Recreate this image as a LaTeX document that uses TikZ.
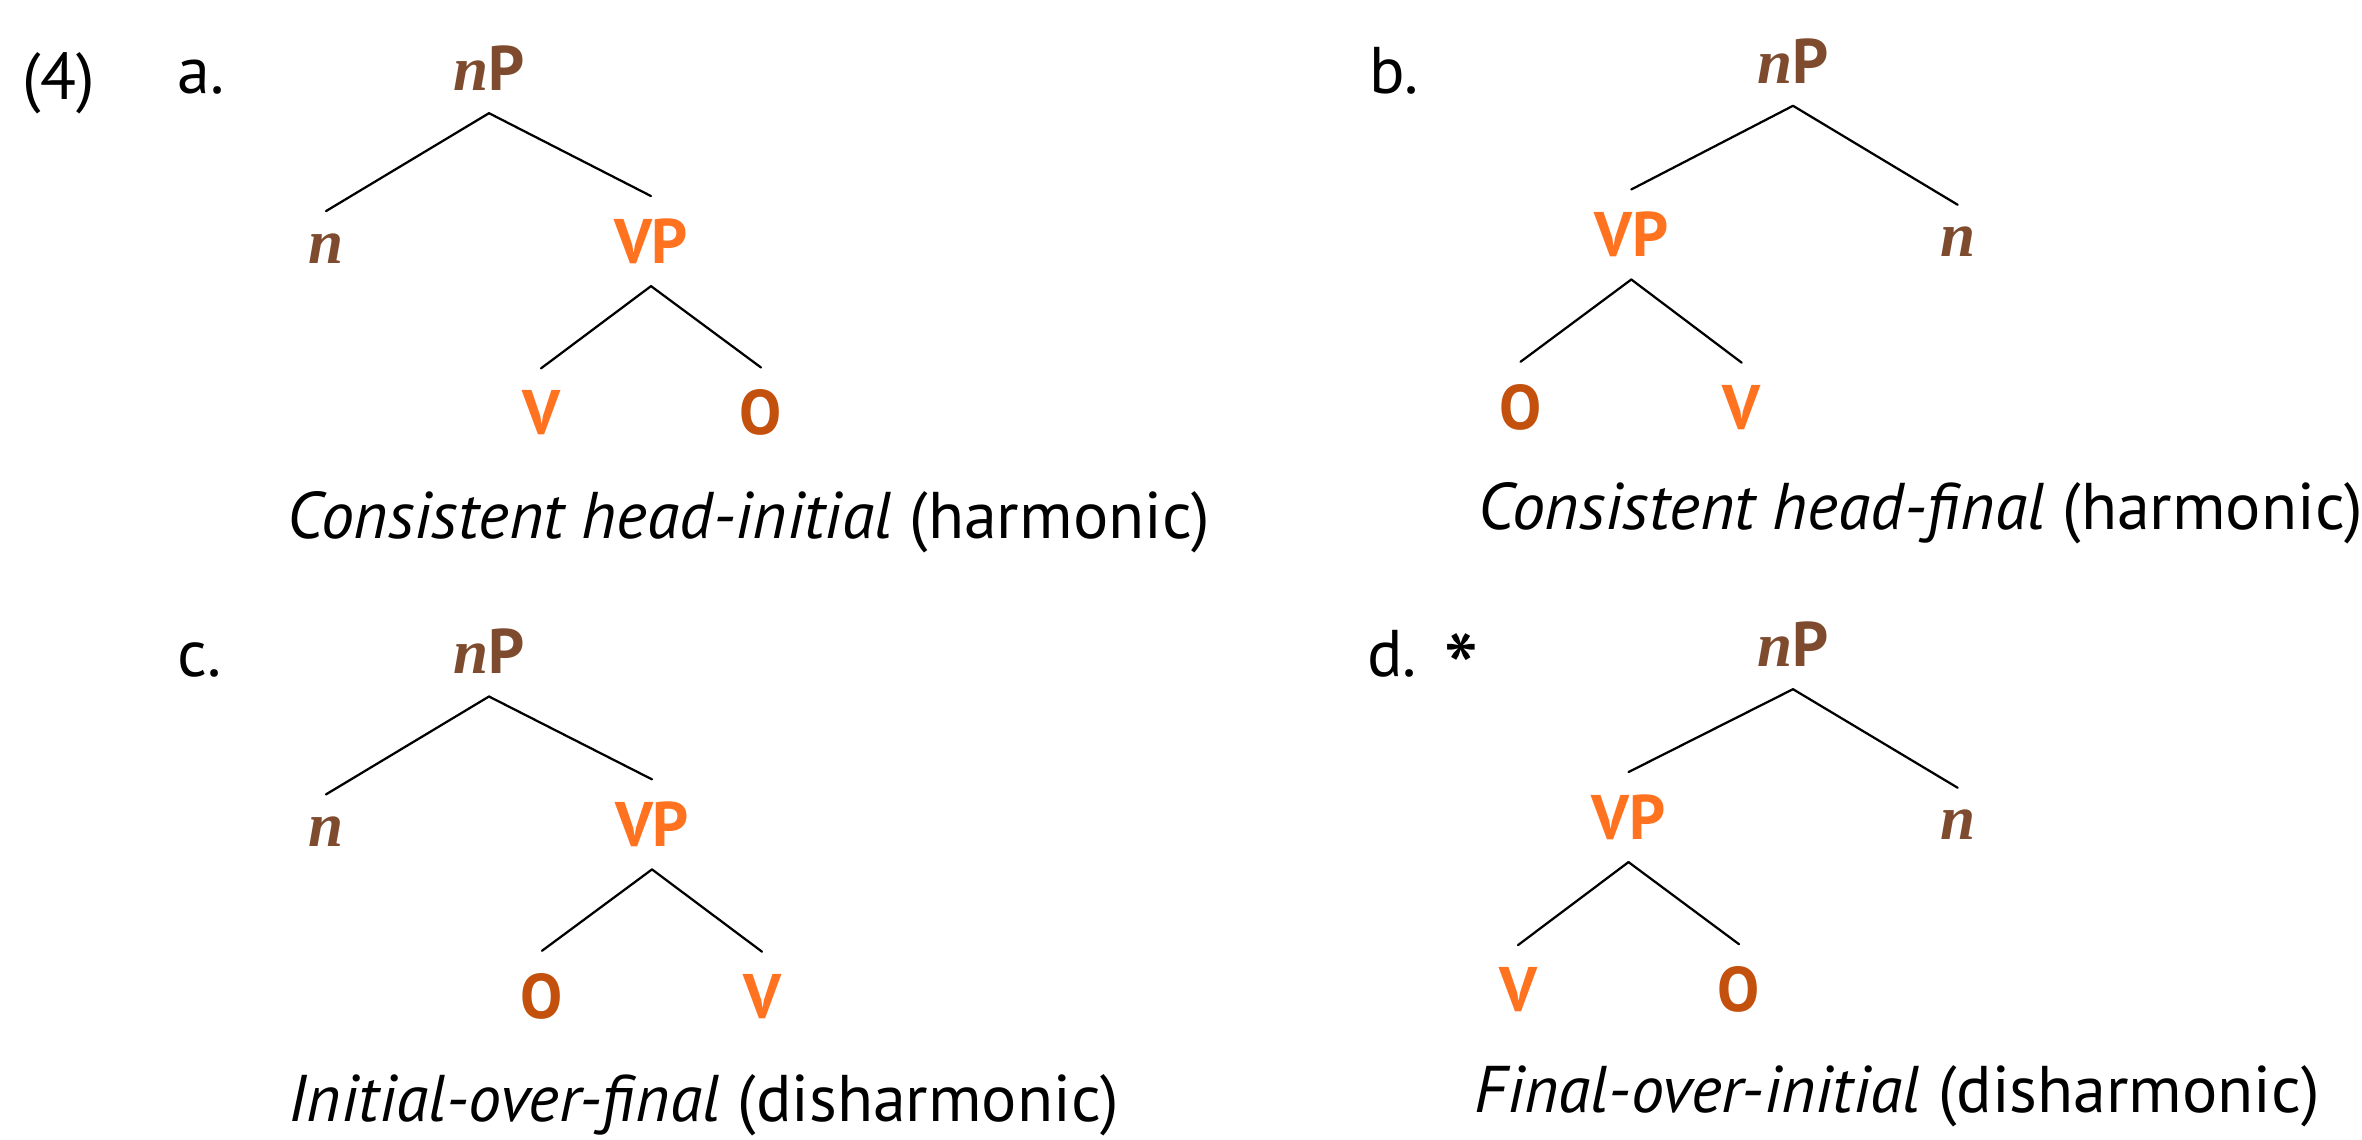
\documentclass[tikz,border=0pt]{standalone}
\usepackage{fontspec}
\setmainfont{PT Sans}
\newfontfamily\nfont{Liberation Serif}
\definecolor{npbrown}{RGB}{127,75,46}
\definecolor{vorange}{RGB}{255,115,32}
\definecolor{oorange}{RGB}{195,80,12}
\begin{document}
\begin{tikzpicture}[x=0.33333pt,y=-0.33333pt,
  lab/.style={anchor=base,inner xsep=0pt,inner ysep=7.3pt,font=\fontsize{21}{25}\selectfont\bfseries},
  npl/.style={lab,text=npbrown},
  vl/.style={lab,text=vorange},
  ol/.style={lab,text=oorange},
  txt/.style={anchor=base west,inner sep=0pt,font=\fontsize{22}{26}\selectfont},
  br/.style={line width=0.75pt,line cap=round}]
\path[use as bounding box,fill=white] (0,0) rectangle (2362,1140);
\newcommand{\nn}{{\nfont\itshape n}}
% labels
\node[txt] (ex) at (21.7,100) {(4)};
\node[txt] (la) at (176.7,94) {a.};
\node[txt] (lb) at (1369.3,94) {b.};
\node[txt] (lc) at (176.7,677) {c.};
\node[txt] (ld) at (1366.7,676.7) {d.};
\node[inner sep=0pt,anchor=north,font=\fontsize{34}{40}\selectfont] (star) at (1461,633.3) {*};
% panel a
\node[npl] (aNP) at (489,90.7) {\nn P};
\node[npl] (an) at (326,263.3) {\nn};
\node[vl] (aVP) at (651,263.3) {VP};
\node[vl] (aV) at (541,435) {V};
\node[ol] (aO) at (761,435) {O};
\draw[br] (aNP.south) -- (an.north);
\draw[br] (aNP.south) -- (aVP.north);
\draw[br] (aVP.south) -- (aV.north);
\draw[br] (aVP.south) -- (aO.north);
\node[txt] (capa) at (287,538.3) {\itshape Consistent head-initial\/\upshape\ (harmonic)};
% panel b
\node[npl] (bNP) at (1793,83.3) {\nn P};
\node[vl] (bVP) at (1631.3,256.7) {VP};
\node[npl] (bn) at (1957.7,257) {\nn};
\node[ol] (bO) at (1520.5,429.3) {O};
\node[vl] (bV) at (1741.7,429.3) {V};
\draw[br] (bNP.south) -- (bVP.north);
\draw[br] (bNP.south) -- (bn.north);
\draw[br] (bVP.south) -- (bO.north);
\draw[br] (bVP.south) -- (bV.north);
\node[txt] (capb) at (1478,530) {\itshape Consistent head-final\/\upshape\ (harmonic)};
% panel c
\node[npl] (cNP) at (489,674) {\nn P};
\node[npl] (cn) at (326,846.6) {\nn};
\node[vl] (cVP) at (652,846.6) {VP};
\node[ol] (cO) at (542,1018.3) {O};
\node[vl] (cV) at (762,1018.3) {V};
\draw[br] (cNP.south) -- (cn.north);
\draw[br] (cNP.south) -- (cVP.north);
\draw[br] (cVP.south) -- (cO.north);
\draw[br] (cVP.south) -- (cV.north);
\node[txt] (capc) at (288,1122) {\itshape Initial-over-final\/\upshape\ (disharmonic)};
% panel d
\node[npl] (dNP) at (1793,666.7) {\nn P};
\node[vl] (dVP) at (1628.5,839.3) {VP};
\node[npl] (dn) at (1957.7,840) {\nn};
\node[vl] (dV) at (1518,1011.7) {V};
\node[ol] (dO) at (1739,1011.7) {O};
\draw[br] (dNP.south) -- (dVP.north);
\draw[br] (dNP.south) -- (dn.north);
\draw[br] (dVP.south) -- (dV.north);
\draw[br] (dVP.south) -- (dO.north);
\node[txt] (capd) at (1474,1113) {\itshape Final-over-initial\/\upshape\ (disharmonic)};
\end{tikzpicture}
\end{document}
